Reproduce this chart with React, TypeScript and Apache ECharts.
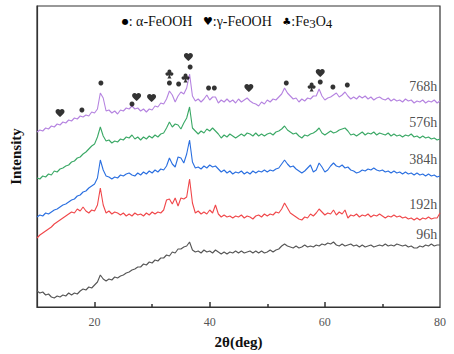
import React, { useEffect, useRef } from "react";
import * as echarts from "echarts";

// 2θ grid (deg), 0.5° step from 10 to 80
const twoTheta: number[] = Array.from({ length: 141 }, (_, i) => 10 + i * 0.5);

// Intensity (arbitrary, offset-stacked)
const i768h = [
  175,177,176,179,178,181,180,183,182,185,
  184,187,186,189,188,191,190,192,191,195,
  194,198,214,209,196,197,194,196,193,197,
  196,199,198,201,198,199,196,198,195,198,
  197,201,200,204,203,208,216,212,205,211,
  215,213,219,233,211,206,208,205,208,212,
  207,210,210,204,207,205,208,205,207,204,
  208,205,207,209,206,204,203,201,205,203,
  207,205,208,207,210,213,219,214,211,208,
  209,205,208,206,209,208,211,211,218,211,
  207,209,210,212,214,210,212,215,211,208,
  210,208,211,209,211,208,210,207,209,210,
  208,207,209,206,208,206,207,205,208,206,
  207,204,206,205,207,204,206,205,207,204,
  206,
];
const i576h = [
  129,128,131,130,133,132,136,135,138,139,
  141,142,145,146,149,150,153,155,158,161,
  163,170,180,171,166,167,164,166,165,168,
  167,170,169,172,168,170,167,170,168,171,
  169,172,170,173,174,179,185,180,183,182,
  178,184,189,200,179,176,173,176,174,178,
  176,179,176,173,169,172,170,173,171,169,
  171,173,171,174,173,171,174,171,173,171,
  173,174,172,175,176,178,181,177,175,173,
  174,171,169,172,171,173,174,176,179,174,
  172,174,176,174,175,177,178,179,176,172,
  173,171,173,175,172,174,173,175,172,174,
  173,172,174,171,173,171,172,170,172,171,
  173,170,171,169,171,169,170,168,169,167,
  168,
];
const i384h = [
  90,92,91,94,93,95,97,98,100,102,
  103,105,107,108,111,112,115,116,119,121,
  123,129,147,137,131,130,128,130,129,132,
  131,133,134,132,131,134,132,135,133,136,
  134,137,135,138,137,141,149,143,140,150,
  149,144,153,167,145,139,140,138,141,139,
  142,140,141,138,135,137,134,136,133,135,
  134,136,133,135,133,136,134,136,135,137,
  135,137,136,138,139,143,147,143,140,141,
  138,136,134,136,139,142,135,137,144,140,
  135,137,141,144,141,140,142,139,140,137,
  136,134,135,137,136,138,137,139,137,136,
  137,135,136,134,136,134,135,133,135,133,
  134,132,134,132,133,131,133,131,132,130,
  131,
];
const i192h = [
  69,72,74,76,78,80,83,85,87,89,
  91,93,95,94,98,96,100,96,94,97,
  96,102,119,102,94,96,93,95,94,92,
  94,91,93,91,94,92,93,91,94,92,
  95,93,95,94,97,107,108,103,109,101,
  109,108,110,128,104,94,96,93,95,93,
  97,94,102,93,90,92,90,91,89,91,
  90,92,89,91,90,88,91,92,90,93,
  91,93,92,95,94,98,104,99,94,92,
  90,88,87,90,89,93,91,94,98,95,
  92,94,93,97,92,95,93,97,89,92,
  91,93,90,92,91,93,90,92,91,93,
  91,89,91,90,92,90,91,89,90,88,
  89,87,89,87,89,88,90,88,89,89,
  94,
];
const i96h = [
  16,14,15,12,13,10,9,11,10,12,
  11,14,12,14,13,16,18,17,20,19,
  22,25,32,28,26,28,27,30,29,31,
  32,34,35,37,38,40,40,43,42,45,
  44,47,46,49,49,52,51,55,54,58,
  58,60,61,65,57,55,56,54,57,55,
  56,54,57,55,53,55,53,55,54,56,
  54,56,54,55,56,54,56,54,56,54,
  55,57,55,57,58,61,63,61,60,59,
  61,59,60,62,60,61,60,62,61,63,
  62,64,63,65,62,61,63,61,62,63,
  61,62,60,62,60,61,62,60,61,62,
  61,63,61,62,61,63,62,61,62,60,
  61,59,59,61,60,62,61,63,61,62,
  62,
];

const seriesNames = ["96h", "192h", "384h", "576h", "768h"];
const seriesColors = ["#555555", "#f0474a", "#2a6fe0", "#3aa865", "#b583e0"];
const seriesValues = [i96h, i192h, i384h, i576h, i768h];
// [2θ, intensity] where each curve's name is written
const nameLabelPos = [[79.6, 72], [79.6, 102], [79.6, 147], [79.6, 184], [79.6, 220]];

// Phase marks above the 768h peaks: [2θ, intensity]
const alphaMarks = [
  [17.8, 197], [21.1, 224], [26.5, 203], [33.0, 224], [34.6, 223], [36.6, 240],
  [39.8, 219], [40.8, 219], [53.3, 224], [59.2, 225], [61.4, 220], [63.9, 222],
];
const gammaMarks = [
  [14.0, 194], [27.3, 210], [29.9, 209], [36.3, 250], [46.8, 219], [59.2, 234],
];
const fe3o4Marks = [[33.0, 233], [35.8, 229], [57.7, 220]];

const xTickLabels = [20, 40, 60, 80];
const xMajorTicks = [20, 40, 60];
const xMinorTicks = [30, 50, 70];

const HEART =
  "path://M12 21.35l-1.45-1.32C5.4 15.36 2 12.28 2 8.5 2 5.42 4.42 3 7.5 3c1.74 0 3.41.81 4.5 2.09C13.09 3.81 14.76 3 16.5 3 19.58 3 22 5.42 22 8.5c0 3.78-3.4 6.86-8.55 11.54L12 21.35z";
const CLUB =
  "path://M12 1a4.2 4.2 0 0 0-3.7 6.2A4.2 4.2 0 1 0 10.6 14.6c-.3 3-1.3 5.2-3 7.4h8.8c-1.7-2.2-2.7-4.4-3-7.4a4.2 4.2 0 1 0 2.3-7.4A4.2 4.2 0 0 0 12 1z";

const SERIF = "'Liberation Serif', 'Times New Roman', serif";

export default function App() {
  const ref = useRef<HTMLDivElement>(null);
  useEffect(() => {
    if (!ref.current) return;
    const chart = echarts.init(ref.current, null, { renderer: "svg" });
    const lineSeries = seriesValues.map((vals, k) => ({
      type: "line",
      name: seriesNames[k],
      data: twoTheta.map((x, i) => [x, vals[i]]),
      showSymbol: false,
      symbol: "none",
      lineStyle: { color: seriesColors[k], width: 1.1 },
      itemStyle: { color: seriesColors[k] },
      z: 2,
    }));
    chart.setOption({
      animation: false,
      backgroundColor: "#ffffff",
      grid: {
        left: 32.5,
        right: 14,
        top: 6,
        bottom: 47,
        show: true,
        borderColor: "#333",
        borderWidth: 1.2,
      },
      xAxis: [
        {
          type: "value",
          min: 10,
          max: 80,
          interval: 10,
          name: "2θ(deg)",
          nameLocation: "middle",
          nameGap: 27,
          nameTextStyle: { fontFamily: SERIF, fontWeight: "bold", fontSize: 15, color: "#111" },
          axisLine: { show: true, lineStyle: { color: "#333", width: 1.2 } },
          axisTick: {
            show: true,
            inside: true,
            length: 5,
            customValues: xMajorTicks,
            lineStyle: { color: "#333", width: 1.5 },
          },
          axisLabel: {
            customValues: xTickLabels,
            fontFamily: SERIF,
            fontSize: 12,
            color: "#555",
            margin: 9,
          },
          splitLine: { show: false },
        },
        {
          type: "value",
          min: 10,
          max: 80,
          interval: 10,
          position: "bottom",
          axisLine: { show: false },
          axisTick: {
            show: true,
            inside: true,
            length: 3,
            customValues: xMinorTicks,
            lineStyle: { color: "#333", width: 1.5 },
          },
          axisLabel: { show: false },
          splitLine: { show: false },
        },
      ],
      yAxis: {
        type: "value",
        min: 0,
        max: 301,
        name: "Intensity",
        nameLocation: "middle",
        nameGap: 14,
        nameTextStyle: { fontFamily: SERIF, fontWeight: "bold", fontSize: 15, color: "#111" },
        axisLine: { show: true, lineStyle: { color: "#333", width: 1.2 } },
        axisTick: { show: false },
        axisLabel: { show: false },
        splitLine: { show: false },
      },
      graphic: [
        {
          type: "text",
          left: "center",
          top: 14,
          style: {
            text:
              "{d|●}{t|: α-FeOOH   }{h|♥}{t|:γ-FeOOH   }{c|♣}{t|:Fe}{s|3}{t|O}{s|4}",
            rich: {
              t: { fontFamily: SERIF, fontSize: 14, fill: "#111" },
              d: { fontFamily: "DejaVu Sans", fontSize: 8, fill: "#000" },
              h: { fontFamily: "DejaVu Sans", fontSize: 11, fill: "#000" },
              c: { fontFamily: "DejaVu Sans", fontSize: 10, fill: "#000" },
              s: { fontFamily: SERIF, fontSize: 13, fill: "#111", padding: [5, 0, 0, 0] },
            },
          },
        },
      ],
      series: [
        ...lineSeries,
        {
          type: "scatter",
          name: "α-FeOOH",
          data: alphaMarks,
          symbol: "circle",
          symbolSize: 5,
          itemStyle: { color: "#000" },
          z: 5,
        },
        {
          type: "scatter",
          name: "γ-FeOOH",
          data: gammaMarks,
          symbol: HEART,
          symbolSize: [9, 8],
          itemStyle: { color: "#000" },
          z: 5,
        },
        {
          type: "scatter",
          name: "Fe3O4",
          data: fe3o4Marks,
          symbol: CLUB,
          symbolSize: [8, 9],
          itemStyle: { color: "#000" },
          z: 5,
        },
        {
          type: "scatter",
          name: "names",
          data: nameLabelPos.map((p, k) => [p[0], p[1], seriesNames[k]]),
          symbolSize: 1,
          itemStyle: { color: "rgba(0,0,0,0)" },
          label: {
            show: true,
            position: [0, 0],
            align: "right",
            verticalAlign: "middle",
            formatter: (p: any) => p.value[2],
            fontFamily: SERIF,
            fontSize: 14,
            color: "#222",
          },
          z: 6,
        },
      ],
    });
    return () => chart.dispose();
  }, []);
  return (
    <div
      ref={ref}
      style={{ position: "fixed", left: 0, top: 0, width: 454, height: 354, background: "#fff" }}
    />
  );
}
